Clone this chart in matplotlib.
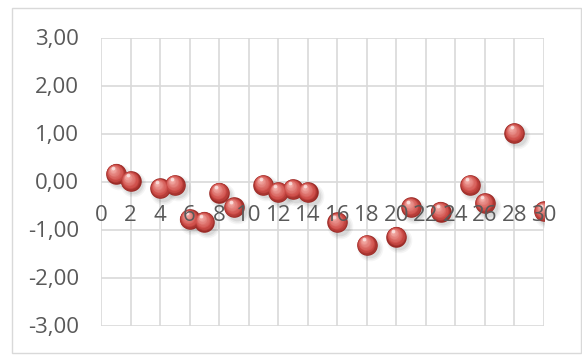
import matplotlib
matplotlib.use("Agg")
import matplotlib.pyplot as plt
import matplotlib.transforms as mtransforms
import numpy as np
from matplotlib.colors import to_rgb
from matplotlib.patches import Rectangle

# Data
x_vals = [1, 2, 4, 5, 6, 7, 8, 9, 11, 12, 13, 14, 16, 18, 20, 21, 23, 25, 26, 28, 30]
y_vals = [0.16, 0.01, -0.14, -0.07, -0.78, -0.84, -0.23, -0.54, -0.07, -0.22, -0.16,
          -0.22, -0.85, -1.32, -1.15, -0.54, -0.63, -0.07, -0.45, 1.01, -0.62]
x_ticks = list(range(0, 31, 2))
y_ticks = [-3, -2, -1, 0, 1, 2, 3]

plt.rcParams['font.family'] = ['Open Sans', 'DejaVu Sans']
TXT = '#595959'
GRID = '#d9d9d9'
FS = 16.0

fig = plt.figure(figsize=(5.82, 3.56), dpi=100)
fig.patch.set_facecolor('white')
# outer chart border
fig.patches.append(Rectangle((12/582, 1-353/356), (581-12)/582, (353-8)/356,
                             transform=fig.transFigure, fill=False,
                             edgecolor=GRID, lw=1.0))

ax = fig.add_axes([101/582, 1-325.5/356, (544-101)/582, (325.5-37.5)/356])
ax.set_xlim(0, 30)
ax.set_ylim(-3, 3)
ax.set_xticks(x_ticks)
ax.set_yticks(y_ticks)
ax.set_axisbelow(True)
ax.grid(True, color=GRID, lw=1.2)
for s in ax.spines.values():
    s.set_visible(False)
ax.tick_params(axis='both', length=0)
ax.tick_params(axis='y', pad=16, labelsize=FS, labelcolor=TXT)
ax.set_yticklabels([f"{v:.2f}".replace('.', ',') for v in y_ticks])
ax.set_xticklabels([])

# Marker: layered shaded sphere
d = 14.8  # diameter in points
xs = np.array(x_vals, dtype=float)
ys = np.array(y_vals, dtype=float)

# shadow
for k, (al, sc) in enumerate([(0.05, 1.25), (0.07, 1.1), (0.09, 0.95)]):
    tr = mtransforms.offset_copy(ax.transData, fig=fig, x=2.0, y=-2.5, units='points')
    ax.scatter(xs, ys, s=(d*sc)**2, color='#404040', alpha=al, linewidths=0,
               transform=tr, zorder=2)

edge = np.array(to_rgb('#9a2a26'))
mid = np.array(to_rgb('#d0504b'))
hi = np.array(to_rgb('#f3aaa4'))
N = 14
for k in range(N):
    t = k / (N - 1)
    if t < 0.3:
        c = edge + (mid - edge) * (t / 0.3)
    else:
        c = mid + (hi - mid) * ((t - 0.3) / 0.7)
    diam = d * (1 - 0.82 * t)
    tr = mtransforms.offset_copy(ax.transData, fig=fig, x=-0.16*d*t, y=0.22*d*t,
                                 units='points')
    ax.scatter(xs, ys, s=diam**2, color=c, linewidths=0, transform=tr, zorder=3 + k*0.01)
# specular spot
tr = mtransforms.offset_copy(ax.transData, fig=fig, x=-0.14*d, y=0.28*d, units='points')
ax.scatter(xs, ys, s=(d*0.18)**2, color='white', alpha=0.6, linewidths=0,
           transform=tr, zorder=4)

# x tick labels on the zero line, drawn above the markers
for xt in x_ticks:
    ax.annotate(str(xt), (xt, 0), xytext=(0, -28.4), textcoords='offset points',
                ha='center', va='baseline', fontsize=FS, color=TXT, zorder=10,
                annotation_clip=False)

fig.savefig('out.png', dpi=100, facecolor='white')
